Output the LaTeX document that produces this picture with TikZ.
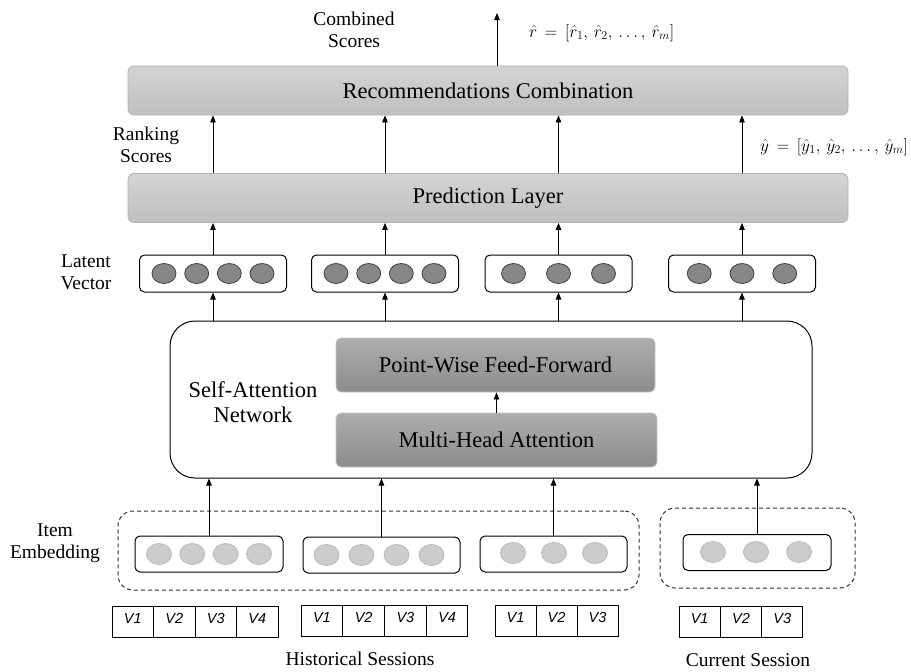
\documentclass[tikz,border=0pt]{standalone}
\usepackage{fontspec}
\setmainfont{Liberation Serif}
\newfontfamily\vfont{Liberation Sans}
\usetikzlibrary{arrows.meta}
\begin{document}
\begin{tikzpicture}[x=1pt,y=-1pt,
  arr/.style={-{Triangle[length=7pt,width=5.5pt]}, line width=0.8pt},
  graybox/.style={draw=black!30, line width=0.8pt, rounded corners=6pt, top color=black!17, bottom color=black!25, minimum width=720pt, minimum height=49pt, inner sep=0pt, font=\fontsize{22.5}{26}\selectfont},
  darkbox/.style={draw=black!22, line width=0.8pt, rounded corners=5pt, top color=black!32, bottom color=black!45, minimum height=54pt, inner sep=0pt, font=\fontsize{22.5}{26}\selectfont},
  vecbox/.style={draw=black, line width=1pt, rounded corners=5pt, minimum width=147pt, minimum height=37pt, inner sep=0pt},
  latdot/.style={fill=black!47, draw=black!75, line width=0.8pt},
  embdot/.style={fill=black!20, draw=black!27, line width=0.8pt},
  sessbox/.style={draw=black!80, dash pattern=on 4pt off 3pt, line width=1pt, rounded corners=15pt, inner sep=0pt},
  lab/.style={align=center, inner sep=0pt, font=\fontsize{19.5}{22}\selectfont},
  vcell/.style={draw=black, line width=0.9pt, minimum width=41.5pt, minimum height=31pt, inner sep=0pt, outer sep=0pt, text height=10pt, text depth=7pt, font=\vfont\itshape\fontsize{14.5}{14.5}\selectfont},
  form/.style={anchor=west, inner sep=0pt, font=\fontsize{17.28}{18}\selectfont}
]
\useasboundingbox (0,0) rectangle (911,672);

% top boxes
\node[graybox] (rec) at (488,90.5) {Recommendations Combination};
\node[graybox] (pred) at (488,198) {Prediction Layer};

% labels
\node[lab] (comb) at (354,30) {Combined\\Scores};
\node[lab] (rank) at (146,145) {Ranking\\Scores};
\node[lab] (lat) at (86,272) {Latent\\Vector};
\node[lab] (item) at (55,543) {Item\\Embedding};
\node[lab] (hist) at (360,659) {Historical Sessions};
\node[lab] (curr) at (748,660) {Current Session};
\node[form] (rform) at (529,33) {$\hat{r}\,=\,[\hat{r}_1,\,\hat{r}_2,\,\ldots,\,\hat{r}_m]$};
\node[form] (yform) at (760,147) {$\hat{y}\,=\,[\hat{y}_1,\,\hat{y}_2,\,\ldots,\,\hat{y}_m]$};

% latent vectors
\node[vecbox] (l1) at (213,273.5) {};
\node[vecbox] (l2) at (385,273.5) {};
\node[vecbox] (l3) at (558.5,273.5) {};
\node[vecbox] (l4) at (742,273.5) {};
\foreach \dx in {-49,-16.3,16.3,49} {
  \filldraw[latdot] (213+\dx,273.5) ellipse [x radius=12, y radius=10];
  \filldraw[latdot] (385+\dx,273.5) ellipse [x radius=12, y radius=10];
}
\foreach \dx in {-45,0,45} {
  \filldraw[latdot] (558.5+\dx,273.5) ellipse [x radius=12, y radius=10];
  \filldraw[latdot] (742+0.95*\dx,273.5) ellipse [x radius=12, y radius=10];
}

% self-attention network
\node[draw=black, line width=1pt, rounded corners=25pt, minimum width=642pt, minimum height=157pt, inner sep=0pt] (san) at (491,399.5) {};
\node[darkbox, minimum width=319pt] (pwff) at (495.5,365) {Point-Wise Feed-Forward};
\node[darkbox, minimum width=321pt] (mha) at (496.5,440) {Multi-Head Attention};
\node[align=center, inner sep=0pt, font=\fontsize{22.5}{25}\selectfont] (santxt) at (253,402) {Self-Attention\\Network};

% session boxes
\node[sessbox, minimum width=521pt, minimum height=79pt] (hbox) at (378.5,550.5) {};
\node[sessbox, minimum width=195pt, minimum height=80pt] (cbox) at (757.5,548) {};

% item embeddings
\node[vecbox, minimum width=148pt, minimum height=36pt] (e1) at (209,554) {};
\node[vecbox, minimum width=157pt, minimum height=36pt] (e2) at (381.5,555) {};
\node[vecbox, minimum width=147pt, minimum height=36pt] (e3) at (553.5,554) {};
\node[vecbox, minimum width=148pt, minimum height=36pt] (e4) at (757,552.5) {};
\foreach \dx in {-50,-16.7,16.7,50} {
  \filldraw[embdot] (209+\dx,554) ellipse [x radius=12.5, y radius=10.5];
  \filldraw[embdot] (379+1.05*\dx,555) ellipse [x radius=12.5, y radius=10.5];
}
\foreach \dx in {-41,0,41} {
  \filldraw[embdot] (554+\dx,553) ellipse [x radius=12.5, y radius=10.5];
  \filldraw[embdot] (756+1.05*\dx,552) ellipse [x radius=12.5, y radius=10.5];
}

% item tables
\foreach \i in {1,...,4} {
  \node[vcell] (ta\i) at (112+41.5*\i-20.75,621.5) {V\i};
  \node[vcell] (tb\i) at (301+41.75*\i-20.875,620.5) {V\i};
}
\foreach \i in {1,...,3} {
  \node[vcell, minimum width=41pt] (tc\i) at (495+41*\i-20.5,620.5) {V\i};
  \node[vcell, minimum width=41.3pt] (td\i) at (679+41.3*\i-20.65,621.5) {V\i};
}

% arrows
\coordinate (topend) at (497,13);
\draw[arr] (rec.north -| topend) -- (topend);
\foreach \i in {1,...,4} {
  \draw[arr] (pred.north -| l\i) -- (rec.south -| l\i);
  \draw[arr] (l\i.north) -- (pred.south -| l\i);
  \draw[arr] (san.north -| l\i) -- (l\i.south);
  \draw[arr] (e\i.north) -- (san.south -| e\i);
}
\draw[arr] (mha.north) -- (mha.north |- pwff.south);
\end{tikzpicture}
\end{document}
